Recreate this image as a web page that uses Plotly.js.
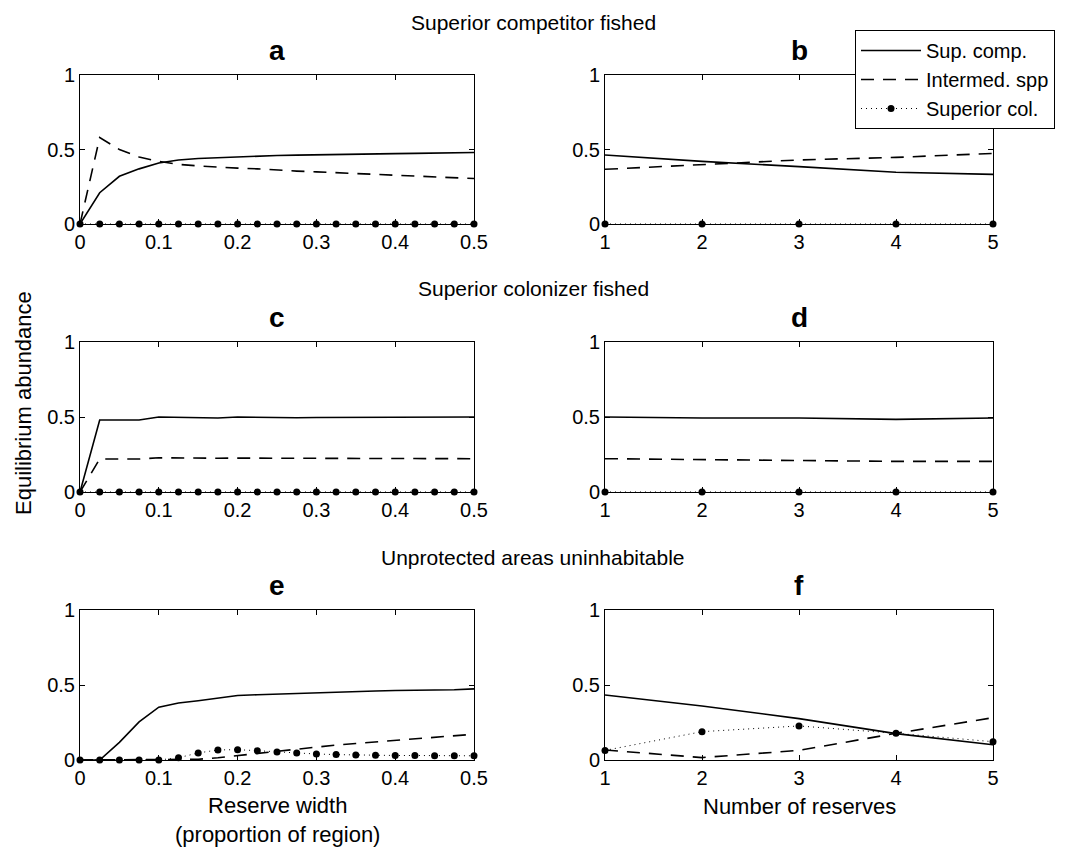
<!DOCTYPE html>
<html><head><meta charset="utf-8">
<script src="https://cdn.plot.ly/plotly-3.0.1.min.js"></script>
<style>html,body{margin:0;padding:0;background:#fff}</style>
</head><body>
<div id="chart" style="width:1067px;height:847px"></div>
<script>
// ---------- data ----------
const widthX = [0,0.025,0.05,0.075,0.1,0.125,0.15,0.175,0.2,0.225,0.25,0.275,0.3,0.325,0.35,0.375,0.4,0.425,0.45,0.475,0.5];
const reservesX = [1,2,3,4,5];
const widthTickVals = [0,0.1,0.2,0.3,0.4,0.5];
const widthTickText = ["0","0.1","0.2","0.3","0.4","0.5"];
const reserveTickVals = [1,2,3,4,5];
const reserveTickText = ["1","2","3","4","5"];
const yTickVals = [0,0.5,1];
const yTickText = ["0","0.5","1"];
const seriesNames = ["Sup. comp.","Intermed. spp","Superior col."];

// panel a: superior competitor fished, reserve width
const aSupComp = [0,0.21,0.32,0.37,0.41,0.43,0.44,0.445,0.455,0.458,0.46,0.462,0.465,0.467,0.47,0.47,0.472,0.474,0.475,0.476,0.48];
const aInterm  = [0,0.58,0.5,0.45,0.42,0.40,0.39,0.38,0.375,0.37,0.36,0.355,0.35,0.345,0.34,0.335,0.33,0.325,0.32,0.315,0.305];
const aSupCol  = [0,0,0,0,0,0,0,0,0,0,0,0,0,0,0,0,0,0,0,0,0];
// panel b: superior competitor fished, number of reserves
const bSupComp = [0.463,0.42,0.385,0.347,0.333];
const bInterm  = [0.367,0.40,0.43,0.447,0.474];
const bSupCol  = [0,0,0,0,0];
// panel c: superior colonizer fished, reserve width
const cSupComp = [0,0.48,0.48,0.48,0.5,0.498,0.495,0.493,0.5,0.497,0.495,0.495,0.497,0.497,0.495,0.495,0.498,0.5,0.5,0.498,0.5];
const cInterm  = [0,0.22,0.22,0.22,0.228,0.226,0.225,0.225,0.226,0.225,0.225,0.224,0.224,0.224,0.224,0.224,0.223,0.223,0.222,0.222,0.222];
const cSupCol  = [0,0,0,0,0,0,0,0,0,0,0,0,0,0,0,0,0,0,0,0,0];
// panel d: superior colonizer fished, number of reserves
const dSupComp = [0.5,0.493,0.493,0.484,0.493];
const dInterm  = [0.222,0.215,0.211,0.204,0.204];
const dSupCol  = [0,0,0,0,0];
// panel e: unprotected areas uninhabitable, reserve width
const eSupComp = [0,0,0.118,0.254,0.352,0.38,0.395,0.41,0.43,0.435,0.44,0.445,0.45,0.453,0.456,0.46,0.463,0.464,0.465,0.468,0.474];
const eInterm  = [0,0,0,0,0,0,0.005,0.015,0.03,0.045,0.06,0.075,0.09,0.1,0.11,0.12,0.13,0.14,0.15,0.16,0.172];
const eSupCol  = [0,0,0,0,0,0.015,0.047,0.067,0.069,0.062,0.053,0.047,0.04,0.036,0.033,0.031,0.03,0.03,0.029,0.029,0.028];
// panel f: unprotected areas uninhabitable, number of reserves
const fSupComp = [0.433,0.36,0.276,0.176,0.102];
const fInterm  = [0.067,0.016,0.064,0.178,0.282];
const fSupCol  = [0.064,0.189,0.227,0.178,0.122];

const panelLetters = ["a","b","c","d","e","f"];
const rowTitles = ["Superior competitor fished","Superior colonizer fished","Unprotected areas uninhabitable"];
const yAxisTitle = "Equilibrium abundance";
const xTitleWidth = "Reserve width<br>(proportion of region)";
const xTitleNumber = "Number of reserves";

// ---------- layout helpers ----------
const W = 1067, H = 847;
const FONT = "Liberation Sans, Arial, Helvetica, sans-serif";
const px = v => v / W;
const py = v => 1 - v / H;
const colDom = [[80, 474], [605, 993]];
const rowTopBot = [[75, 224], [342, 492], [610, 760]];

const panels = [
  {x: widthX, s: [aSupComp, aInterm, aSupCol], wide: true},
  {x: reservesX, s: [bSupComp, bInterm, bSupCol], wide: false},
  {x: widthX, s: [cSupComp, cInterm, cSupCol], wide: true},
  {x: reservesX, s: [dSupComp, dInterm, dSupCol], wide: false},
  {x: widthX, s: [eSupComp, eInterm, eSupCol], wide: true},
  {x: reservesX, s: [fSupComp, fInterm, fSupCol], wide: false}
];

const styles = [
  {mode: "lines", line: {color: "#000", width: 1.6, dash: "solid"}},
  {mode: "lines", line: {color: "#000", width: 1.6, dash: "13px,9px"}},
  {mode: "lines+markers", line: {color: "#000", width: 1, dash: "1px,4px"}, marker: {color: "#000", size: 7, symbol: "circle"}}
];

const traces = [];
const layout = {
  width: W, height: H,
  margin: {l: 0, r: 0, t: 0, b: 0},
  paper_bgcolor: "#fff", plot_bgcolor: "#fff",
  font: {family: FONT, size: 20, color: "#000"},
  showlegend: true,
  legend: {
    x: px(855), y: py(30), xanchor: "left", yanchor: "top",
    bgcolor: "#fff", bordercolor: "#000", borderwidth: 1,
    font: {family: FONT, size: 20, color: "#000"},
    itemwidth: 60, tracegroupgap: 0
  },
  annotations: [],
  hovermode: false
};

panels.forEach((p, i) => {
  const n = i + 1;
  const xa = n === 1 ? "x" : "x" + n;
  const ya = n === 1 ? "y" : "y" + n;
  const col = i % 2, row = Math.floor(i / 2);
  p.s.forEach((vals, k) => {
    traces.push(Object.assign({
      type: "scatter", x: p.x, y: vals, xaxis: xa, yaxis: ya,
      name: seriesNames[k], showlegend: i === 0, cliponaxis: false
    }, JSON.parse(JSON.stringify(styles[k]))));
  });
  const axCommon = {
    showline: true, linecolor: "#000", linewidth: 1, mirror: "ticks",
    ticks: "inside", ticklen: 5, tickwidth: 1, tickcolor: "#000",
    showgrid: false, zeroline: false, fixedrange: true,
    tickfont: {family: FONT, size: 20, color: "#000"}
  };
  layout["xaxis" + (n === 1 ? "" : n)] = Object.assign({}, axCommon, {
    domain: [px(colDom[col][0]), px(colDom[col][1])],
    anchor: ya,
    range: p.wide ? [0, 0.5] : [1, 5],
    tickmode: "array",
    tickvals: p.wide ? widthTickVals : reserveTickVals,
    ticktext: p.wide ? widthTickText : reserveTickText
  });
  layout["yaxis" + (n === 1 ? "" : n)] = Object.assign({}, axCommon, {
    domain: [py(rowTopBot[row][1]), py(rowTopBot[row][0])],
    anchor: xa,
    range: [0, 1],
    tickmode: "array", tickvals: yTickVals, ticktext: yTickText
  });
  layout.annotations.push({
    text: "<b>" + panelLetters[i] + "</b>", xref: "paper", yref: "paper",
    x: px((colDom[col][0] + colDom[col][1]) / 2), y: py(rowTopBot[row][0] - 25),
    xanchor: "center", yanchor: "middle", showarrow: false,
    font: {family: FONT, size: 28, color: "#000"}
  });
});

rowTitles.forEach((t, r) => {
  layout.annotations.push({
    text: t, xref: "paper", yref: "paper",
    x: px(533), y: py(rowTopBot[r][0] - 53),
    xanchor: "center", yanchor: "middle", showarrow: false,
    font: {family: FONT, size: 21, color: "#000"}
  });
});

layout.annotations.push({
  text: yAxisTitle, xref: "paper", yref: "paper", x: px(23), y: py(403),
  xanchor: "center", yanchor: "middle", textangle: -90, showarrow: false,
  font: {family: FONT, size: 22, color: "#000"}
});
layout.annotations.push({
  text: xTitleWidth, xref: "paper", yref: "paper", x: px(277), y: py(820),
  xanchor: "center", yanchor: "middle", showarrow: false,
  font: {family: FONT, size: 22, color: "#000"}
});
layout.annotations.push({
  text: xTitleNumber, xref: "paper", yref: "paper", x: px(799), y: py(806),
  xanchor: "center", yanchor: "middle", showarrow: false,
  font: {family: FONT, size: 22, color: "#000"}
});

Plotly.newPlot("chart", traces, layout, {displayModeBar: false, staticPlot: true});
</script>
</body></html>
